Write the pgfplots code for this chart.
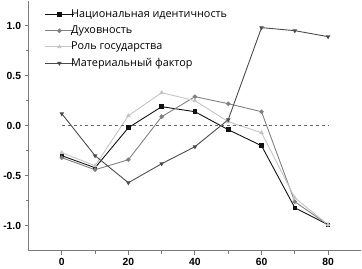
\documentclass[border=0pt]{standalone}
\usepackage{fontspec}
\setmainfont{Open Sans}
\newfontfamily\ticksf{Liberation Sans}
\usepackage{pgfplots}
\pgfplotsset{compat=1.18}
\definecolor{cnat}{HTML}{111111}
\definecolor{cduh}{HTML}{808080}
\definecolor{crol}{HTML}{C4C4C4}
\definecolor{cmat}{HTML}{4A4A4A}
\definecolor{caxis}{HTML}{7A7A7A}
\begin{document}
\begin{tikzpicture}[x=1pt,y=1pt]
\begin{axis}[
  scale only axis,
  width=338pt, height=254pt,
  xmin=-10, xmax=90, ymin=-1.25, ymax=1.25,
  axis lines*=left,
  axis line style={caxis, line width=1.3pt},
  tick align=outside,
  tick style={caxis, line width=0.9pt},
  major tick length=4pt, minor tick length=3pt,
  xtick={0,20,40,60,80}, ytick={-1,-0.5,0,0.5,1},
  minor x tick num=1, minor y tick num=1,
  /pgf/number format/assume math mode=true,
  /pgf/number format/.cd, fixed, fixed zerofill, precision=1, /pgfplots/.cd,
  xticklabel style={/pgf/number format/precision=0, /pgf/number format/fixed zerofill=false},
  tick label style={font=\ticksf\bfseries\fontsize{10.5}{12}\selectfont},
  legend style={at={(rel axis cs:0.045,0.975)}, anchor=north west, draw=none, fill=none,
    font=\fontsize{11}{13}\selectfont, row sep=3pt, column sep=0pt, inner sep=1pt,
    cells={anchor=west, inner xsep=1pt},
    /tikz/every odd column/.append style={column sep=-5pt}},
  legend cell align=left,
  legend image code/.code={\draw[mark repeat=2,mark phase=2,#1] plot coordinates {(0pt,0pt) (14.5pt,0pt) (29pt,0pt)};},
  every axis plot/.append style={line width=0.9pt, mark size=1.8pt},
]
\addplot[cnat, mark=square*] coordinates {(0,-0.30) (10,-0.42) (20,-0.02) (30,0.19) (40,0.14) (50,-0.04) (60,-0.20) (70,-0.82) (80,-0.99)};
\addlegendentry{Национальная идентичность}
\addplot[cduh, mark=*] coordinates {(0,-0.32) (10,-0.44) (20,-0.34) (30,0.09) (40,0.29) (50,0.22) (60,0.14) (70,-0.76) (80,-0.99)};
\addlegendentry{Духовность}
\addplot[crol, mark=triangle*] coordinates {(0,-0.27) (10,-0.40) (20,0.10) (30,0.33) (40,0.25) (50,0.04) (60,-0.07) (70,-0.72) (80,-0.99)};
\addlegendentry{Роль государства}
\addplot[cmat, mark=triangle*, mark options={rotate=180}] coordinates {(0,0.12) (10,-0.30) (20,-0.57) (30,-0.38) (40,-0.21) (50,0.06) (60,0.98) (70,0.95) (80,0.89)};
\addlegendentry{Материальный фактор}
\addplot[black!60, dashed, line width=0.9pt, forget plot] coordinates {(0,0) (80,0)};
\node[font=\ticksf\fontsize{11}{12}\selectfont] at (rel axis cs:0,0.83) [xshift=-12pt] {r};
\end{axis}
\end{tikzpicture}
\end{document}
